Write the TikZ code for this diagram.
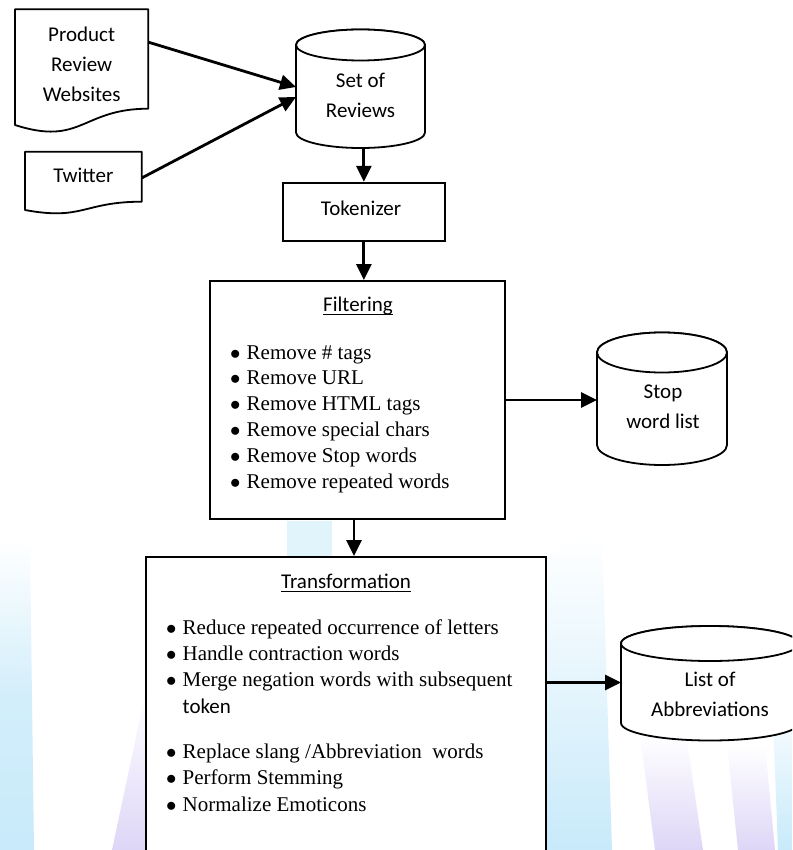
\documentclass[tikz,border=0pt]{standalone}
\usepackage{fontspec}
\setmainfont{Liberation Serif}
\newfontfamily\calfont{Carlito}
\usetikzlibrary{arrows.meta,calc}
\definecolor{wmblue}{RGB}{200,234,250}
\definecolor{wmpurp}{RGB}{222,214,247}
\newcommand{\itm}[1]{\makebox[16.5pt][l]{$\bullet$}#1}
\newcommand{\dbcyl}[5]{%
  \filldraw[shp] (#1-#2,#3) -- (#1-#2,#4) arc[start angle=180,end angle=360,x radius=#2pt,y radius=#5pt] -- (#1+#2,#3) arc[start angle=0,end angle=180,x radius=#2pt,y radius=#5pt] -- cycle;
  \draw[shp] (#1,#3) ellipse[x radius=#2pt, y radius=#5pt];
}
\tikzset{
 shp/.style={draw=black, fill=white, line width=1.8pt, line join=round},
 box/.style={draw=black, fill=white, line width=1.8pt, inner sep=0pt},
 frame/.style={draw=none, inner sep=0pt, outer sep=0pt},
 lbl/.style={font=\calfont\fontsize{21}{30}\selectfont, inner sep=0pt, anchor=base},
 ttl/.style={font=\calfont\fontsize{21}{26}\selectfont, inner sep=0pt, anchor=base},
 bulf/.style={font=\fontsize{21}{25.8}\selectfont, inner sep=0pt, anchor=base west},
 bult/.style={font=\fontsize{21}{26}\selectfont, inner sep=0pt, anchor=base west},
 ul/.style={line width=1.3pt},
 arr/.style={line width=2.8pt, -{Triangle[length=16pt,width=15pt]}},
}
\begin{document}
\begin{tikzpicture}[x=1pt,y=-1pt]
\useasboundingbox (0,0) rectangle (792,850);
\clip (0,0) rectangle (792,850);
\fill[white] (0,0) rectangle (792,850);
% watermark
\shade[top color=white, bottom color=wmblue, middle color=wmblue!80] (0,540) -- (30,548) -- (34,850) -- (0,850) -- cycle;
\shade[top color=white, bottom color=wmpurp] (146,690) -- (146,850) -- (112,850) -- cycle;
\fill[wmblue!55] (287,521) -- (332,521) -- (332,557) -- (287,557) -- cycle;
\shade[top color=white, bottom color=wmblue] (568,540) -- (602,535) -- (612,850) -- (546,850) -- (546,560) -- cycle;
\shade[top color=white, bottom color=wmpurp] (640,735) -- (686,735) -- (703,850) -- (655,850) -- cycle;
\shade[top color=white, bottom color=wmpurp] (727,745) -- (765,745) -- (775,850) -- (738,850) -- cycle;
\shade[top color=white, bottom color=wmblue] (772,690) -- (792,690) -- (792,850) -- (778,850) -- cycle;

% document shapes
\draw[shp] (15,9.3) -- (148.3,9.3) -- (148.3,108.7) .. controls (81.65,108.7) and (81.65,146.5) .. (15,125) -- cycle;
\node[frame, minimum width=133.3pt, minimum height=115.7pt] (prw) at (81.65,67.15) {};
\node[lbl] (prwt) at (81.65,41.5) {\begin{tabular}[t]{@{}c@{}}Product\\Review\\Websites\end{tabular}};

\draw[shp] (25,151.7) -- (141.7,151.7) -- (141.7,201.7) .. controls (83.3,201.7) and (83.3,220.8) .. (25,210) -- cycle;
\node[frame, minimum width=116.7pt, minimum height=58.3pt] (tw) at (83.35,180.85) {};
\node[lbl] (twt) at (83.3,183) {Twitter};

% cylinders
\dbcyl{360.5}{64.5}{45}{132.5}{15.5}
\node[frame, minimum width=129pt, minimum height=119pt] (set) at (360.5,88.5) {};
\node[lbl] (sett) at (360.5,88) {\begin{tabular}[t]{@{}c@{}}Set of\\Reviews\end{tabular}};

\dbcyl{662}{65}{352.5}{445}{20}
\node[frame, minimum width=130pt, minimum height=133pt] (stop) at (662,398.5) {};
\node[lbl] (stopt) at (663,398.5) {\begin{tabular}[t]{@{}c@{}}Stop\\word list\end{tabular}};

\dbcyl{710}{89}{643.5}{723}{17.5}
\node[frame, minimum width=178pt, minimum height=115pt] (list) at (710,682.5) {};
\node[lbl] (listt) at (710,686.5) {\begin{tabular}[t]{@{}c@{}}List of\\Abbreviations\end{tabular}};

% tokenizer
\node[box, minimum width=162.3pt, minimum height=58pt] (tok) at (363.85,211.7) {};
\node[lbl] (tokt) at (361,215) {Tokenizer};

% filtering
\node[box, minimum width=295pt, minimum height=238pt] (filt) at (357.5,400) {};
\node[ttl] (filtt) at (358,311) {Filtering};
\draw[ul] ([yshift=-3.5pt]filtt.base west) -- ([yshift=-3.5pt]filtt.base east);
\node[bulf] (filtl) at (230,359) {\begin{tabular}[t]{@{}l@{}}
\itm{Remove \# tags}\\
\itm{Remove URL}\\
\itm{Remove HTML tags}\\
\itm{Remove special chars}\\
\itm{Remove Stop words}\\
\itm{Remove repeated words}
\end{tabular}};

% transformation
\node[box, minimum width=400pt, minimum height=330pt] (trans) at (346,722) {};
\node[ttl] (transt) at (346,588) {Transformation};
\draw[ul] ([yshift=-3.5pt]transt.base west) -- ([yshift=-3.5pt]transt.base east);
\node[bult] (transl) at (166,634.5) {\begin{tabular}[t]{@{}l@{}}
\itm{Reduce repeated occurrence of letters}\\
\itm{Handle contraction words}\\
\itm{Merge negation words with subsequent}\\[1pt]
\hspace*{16.5pt}{\calfont token}\\[19pt]
\itm{Replace slang /Abbreviation\ \ words}\\
\itm{Perform Stemming}\\[1pt]
\itm{Normalize Emoticons}
\end{tabular}};

% connectors
\draw[arr] ([yshift=25pt]prw.east) -- ([yshift=1.5pt]set.west);
\draw[arr] ([yshift=2.85pt]tw.east) -- ([yshift=-8.5pt]set.west);
\draw[arr] (tok.north |- set.south) -- (tok.north);
\draw[arr] (tok.south) -- (tok.south |- filt.north);
\draw[arr] (filt.east) -- (filt.east -| stop.west);
\draw[arr] ([xshift=-3.5pt]filt.south) -- ([xshift=-3.5pt]filt.south |- trans.north);
\draw[arr] (trans.east |- list.west) -- (list.west);
\end{tikzpicture}
\end{document}
